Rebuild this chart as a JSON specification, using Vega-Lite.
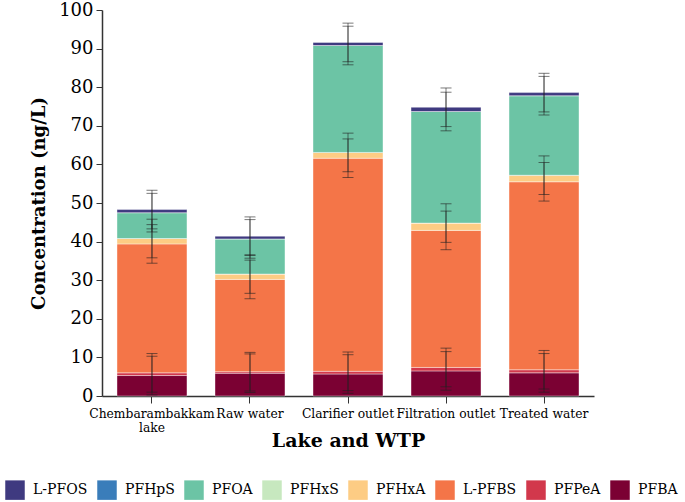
{
  "$schema": "https://vega.github.io/schema/vega-lite/v6.json",
  "autosize": "none",
  "padding": {"left": 102, "top": 10, "right": 91, "bottom": 106},
  "width": 492,
  "height": 386,
  "background": "white",
  "config": {
    "view": {"stroke": null},
    "font": "DejaVu Serif",
    "axis": {"labelFont": "DejaVu Serif", "titleFont": "DejaVu Serif", "labelColor": "#000", "titleColor": "#000", "domainColor": "#333", "tickColor": "#333", "grid": false},
    "legend": {"labelFont": "DejaVu Serif"}
  },
  "data": {"values": [
    {"location": "Chembarambakkam lake", "compound": "PFBA", "ord": 1, "value": 5.3, "err": 5},
    {"location": "Chembarambakkam lake", "compound": "PFPeA", "ord": 2, "value": 0.7, "err": 5},
    {"location": "Chembarambakkam lake", "compound": "L-PFBS", "ord": 3, "value": 33.4, "err": 5},
    {"location": "Chembarambakkam lake", "compound": "PFHxA", "ord": 4, "value": 1.4, "err": 5},
    {"location": "Chembarambakkam lake", "compound": "PFHxS", "ord": 5, "value": 0, "err": null},
    {"location": "Chembarambakkam lake", "compound": "PFOA", "ord": 6, "value": 6.7, "err": 5},
    {"location": "Chembarambakkam lake", "compound": "PFHpS", "ord": 7, "value": 0, "err": null},
    {"location": "Chembarambakkam lake", "compound": "L-PFOS", "ord": 8, "value": 0.8, "err": 5},
    {"location": "Raw water", "compound": "PFBA", "ord": 1, "value": 5.9, "err": 5},
    {"location": "Raw water", "compound": "PFPeA", "ord": 2, "value": 0.4, "err": 5},
    {"location": "Raw water", "compound": "L-PFBS", "ord": 3, "value": 23.9, "err": 5},
    {"location": "Raw water", "compound": "PFHxA", "ord": 4, "value": 1.4, "err": 5},
    {"location": "Raw water", "compound": "PFHxS", "ord": 5, "value": 0, "err": null},
    {"location": "Raw water", "compound": "PFOA", "ord": 6, "value": 9.1, "err": 5},
    {"location": "Raw water", "compound": "PFHpS", "ord": 7, "value": 0, "err": null},
    {"location": "Raw water", "compound": "L-PFOS", "ord": 8, "value": 0.7, "err": 5},
    {"location": "Clarifier outlet", "compound": "PFBA", "ord": 1, "value": 5.7, "err": 5},
    {"location": "Clarifier outlet", "compound": "PFPeA", "ord": 2, "value": 0.7, "err": 5},
    {"location": "Clarifier outlet", "compound": "L-PFBS", "ord": 3, "value": 55.2, "err": 5},
    {"location": "Clarifier outlet", "compound": "PFHxA", "ord": 4, "value": 1.5, "err": 5},
    {"location": "Clarifier outlet", "compound": "PFHxS", "ord": 5, "value": 0, "err": null},
    {"location": "Clarifier outlet", "compound": "PFOA", "ord": 6, "value": 27.7, "err": 5},
    {"location": "Clarifier outlet", "compound": "PFHpS", "ord": 7, "value": 0, "err": null},
    {"location": "Clarifier outlet", "compound": "L-PFOS", "ord": 8, "value": 0.8, "err": 5},
    {"location": "Filtration outlet", "compound": "PFBA", "ord": 1, "value": 6.5, "err": 5},
    {"location": "Filtration outlet", "compound": "PFPeA", "ord": 2, "value": 0.9, "err": 5},
    {"location": "Filtration outlet", "compound": "L-PFBS", "ord": 3, "value": 35.5, "err": 5},
    {"location": "Filtration outlet", "compound": "PFHxA", "ord": 4, "value": 1.9, "err": 5},
    {"location": "Filtration outlet", "compound": "PFHxS", "ord": 5, "value": 0, "err": null},
    {"location": "Filtration outlet", "compound": "PFOA", "ord": 6, "value": 28.9, "err": 5},
    {"location": "Filtration outlet", "compound": "PFHpS", "ord": 7, "value": 0, "err": null},
    {"location": "Filtration outlet", "compound": "L-PFOS", "ord": 8, "value": 1.1, "err": 5},
    {"location": "Treated water", "compound": "PFBA", "ord": 1, "value": 6.0, "err": 5},
    {"location": "Treated water", "compound": "PFPeA", "ord": 2, "value": 0.8, "err": 5},
    {"location": "Treated water", "compound": "L-PFBS", "ord": 3, "value": 48.7, "err": 5},
    {"location": "Treated water", "compound": "PFHxA", "ord": 4, "value": 1.7, "err": 5},
    {"location": "Treated water", "compound": "PFHxS", "ord": 5, "value": 0, "err": null},
    {"location": "Treated water", "compound": "PFOA", "ord": 6, "value": 20.6, "err": 5},
    {"location": "Treated water", "compound": "PFHpS", "ord": 7, "value": 0, "err": null},
    {"location": "Treated water", "compound": "L-PFOS", "ord": 8, "value": 0.8, "err": 5}
  ]},
  "encoding": {
    "x": {
      "field": "location", "type": "nominal",
      "sort": ["Chembarambakkam lake", "Raw water", "Clarifier outlet", "Filtration outlet", "Treated water"],
      "scale": {"paddingInner": 0.286, "paddingOuter": 0.153},
      "axis": {"title": "Lake and WTP", "labelAngle": 0, "labelFontSize": 12.3, "titleFontSize": 19, "titleFontWeight": "bold", "tickSize": 7, "labelPadding": 4, "titlePadding": -2, "domainWidth": 1.5, "labelLimit": 200,
        "labelExpr": "datum.label == 'Chembarambakkam lake' ? ['Chembarambakkam', 'lake'] : datum.label"}
    }
  },
  "layer": [
    {
      "mark": {"type": "bar", "stroke": "white", "strokeWidth": 0.4},
      "encoding": {
        "y": {"field": "value", "type": "quantitative", "stack": "zero",
          "scale": {"domain": [0, 100], "nice": false},
          "axis": {"title": "Concentration (ng/L)", "values": [0,10,20,30,40,50,60,70,80,90,100], "labelFontSize": 18, "titleFontSize": 18, "titleFontWeight": "bold", "tickSize": 6, "labelPadding": 3, "titlePadding": 10, "domainWidth": 1.5}},
        "order": {"field": "ord", "type": "quantitative"},
        "color": {
          "field": "compound", "type": "nominal",
          "scale": {
            "domain": ["L-PFOS", "PFHpS", "PFOA", "PFHxS", "PFHxA", "L-PFBS", "PFPeA", "PFBA"],
            "range": ["#3f3a80", "#3a7dba", "#6cc4a5", "#c7e8bf", "#fdcc84", "#f47548", "#d2384c", "#7b0133"]
          },
          "legend": {"title": null, "orient": "none", "legendX": -97, "legendY": 470, "direction": "horizontal", "columns": 8, "symbolType": "square", "symbolSize": 380, "symbolStrokeWidth": 0, "labelFontSize": 14, "labelOffset": 8, "columnPadding": 9}
        }
      }
    },
    {
      "transform": [
        {"stack": "value", "groupby": ["location"], "sort": [{"field": "ord"}], "as": ["v0", "v1"]},
        {"filter": "datum.err != null"}
      ],
      "mark": {"type": "errorbar", "ticks": {"size": 11}, "color": "#222", "opacity": 0.6, "thickness": 1},
      "encoding": {
        "y": {"field": "v1", "type": "quantitative", "title": "Concentration (ng/L)",
          "axis": {"title": "Concentration (ng/L)", "values": [0,10,20,30,40,50,60,70,80,90,100], "labelFontSize": 18, "titleFontSize": 18, "titleFontWeight": "bold", "tickSize": 6, "labelPadding": 3, "titlePadding": 10, "domainWidth": 1.5}},
        "yError": {"field": "err"}
      }
    }
  ]
}
